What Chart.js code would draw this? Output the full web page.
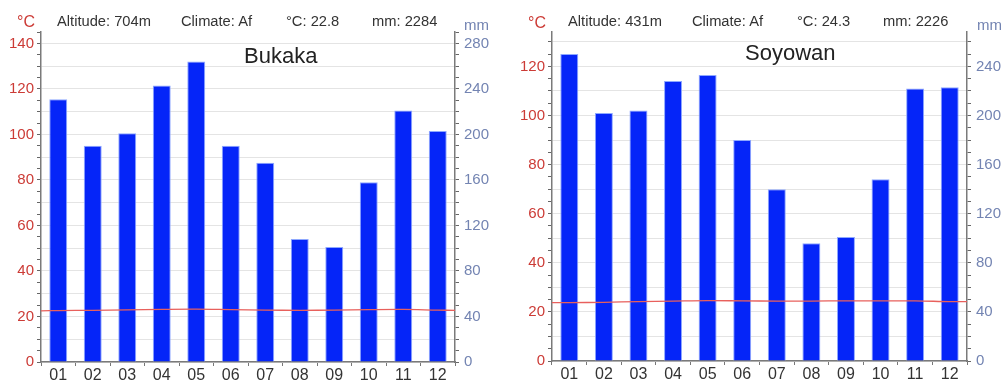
<!DOCTYPE html>
<html>
<head>
<meta charset="utf-8">
<script src="https://cdn.jsdelivr.net/npm/chart.js@4.4.1/dist/chart.umd.min.js"></script>
<style>
  html, body { margin: 0; padding: 0; background: #fff; }
  body { width: 1004px; height: 385px; overflow: hidden; position: relative;
         font-family: "Liberation Sans", Arial, sans-serif; }
  .panel { position: absolute; top: 0; height: 385px; }
  .txt { position: absolute; white-space: nowrap; line-height: 1; transform: translateY(-50%); }
  .hdr { font-size: 14.7px; color: #333; }
  .deg { font-size: 16px; color: #cc3b36; }
  .mm  { font-size: 15px; color: #7384b2; }
  .ttl { font-size: 22px; color: #222; }
</style>
</head>
<body>
<div class="panel" style="left:0;width:500px"><canvas id="c1" width="500" height="385"></canvas></div>
<div class="panel" style="left:500px;width:504px"><canvas id="c2" width="504" height="385"></canvas></div>

<div class="txt deg" style="left:17px;top:22px">°C</div>
<div class="txt hdr" style="left:57px;top:21px">Altitude: 704m</div>
<div class="txt hdr" style="left:181px;top:21px">Climate: Af</div>
<div class="txt hdr" style="left:286px;top:21px">°C: 22.8</div>
<div class="txt hdr" style="left:372px;top:21px">mm: 2284</div>
<div class="txt mm"  style="left:464px;top:24px">mm</div>
<div class="txt ttl" style="left:244px;top:56px">Bukaka</div>

<div class="txt deg" style="left:528px;top:23px">°C</div>
<div class="txt hdr" style="left:568px;top:21px">Altitude: 431m</div>
<div class="txt hdr" style="left:692px;top:21px">Climate: Af</div>
<div class="txt hdr" style="left:797px;top:21px">°C: 24.3</div>
<div class="txt hdr" style="left:883px;top:21px">mm: 2226</div>
<div class="txt mm"  style="left:977px;top:24px">mm</div>
<div class="txt ttl" style="left:745px;top:53px">Soyowan</div>

<script>
// Month labels shared by both stations
const months = ['01', '02', '03', '04', '05', '06', '07', '08', '09', '10', '11', '12'];

// Bukaka: monthly precipitation (mm) and mean temperature (°C)
const bukakaRain = [231, 190, 201, 243, 264, 190, 175, 108, 101, 158, 221, 203];
const bukakaTemp = [22.6, 22.7, 22.9, 23.1, 23.2, 23.0, 22.8, 22.7, 22.8, 23.0, 23.1, 22.8];
const bukakaTempEdges = [22.5, 22.7];   // curve value at the left / right plot edge

// Soyowan: monthly precipitation (mm) and mean temperature (°C)
const soyowanRain = [250, 202, 204, 228, 233, 180, 140, 96, 101, 148, 222, 223];
const soyowanTemp = [23.8, 23.9, 24.2, 24.4, 24.6, 24.5, 24.4, 24.4, 24.5, 24.5, 24.5, 24.2];
const soyowanTempEdges = [23.8, 24.2];

// Axis ranges (°C on the left, mm on the right = 2 × °C)
const bukakaTempMax = 145;
const soyowanTempMax = 134;

Chart.defaults.font.family = '"Liberation Sans", Arial, sans-serif';

function climateChart(canvasId, rain, temp, edges, tMax, yW, y2W, xH) {
  const linePts = [{ x: 0, y: edges[0] }]
    .concat(temp.map((t, i) => ({ x: i + 0.5, y: t })))
    .concat([{ x: 12, y: edges[1] }]);

  return new Chart(document.getElementById(canvasId), {
    type: 'bar',
    data: {
      labels: months,
      datasets: [
        {
          type: 'line',
          data: linePts,
          xAxisID: 'xl',
          yAxisID: 'y',
          borderColor: '#e8605c',
          borderWidth: 1.3,
          pointRadius: 0,
          tension: 0.35,
          order: 0
        },
        {
          type: 'bar',
          data: rain,
          xAxisID: 'x',
          yAxisID: 'y2',
          backgroundColor: '#0525f8',
          borderColor: '#8ea8ff',
          borderWidth: 1,
          grouped: false,
          barPercentage: 0.52,
          categoryPercentage: 1,
          order: 1
        }
      ]
    },
    options: {
      responsive: false,
      animation: false,
      events: [],
      layout: { padding: { top: 32, left: 0, right: 0, bottom: 0 } },
      plugins: { legend: { display: false }, tooltip: { enabled: false }, title: { display: false } },
      scales: {
        x: {
          type: 'category',
          offset: true,
          afterFit: s => { s.height = xH; },
          grid: { offset: true, drawOnChartArea: false, tickLength: 4, tickColor: '#777' },
          border: { color: '#7a7a7a', width: 1.5 },
          ticks: { color: '#333', font: { size: 16 }, padding: 0, maxRotation: 0, autoSkip: false }
        },
        xl: {
          type: 'linear', display: false, offset: false,
          grid: { offset: false }, min: 0, max: 12
        },
        y: {
          position: 'left',
          min: 0,
          max: tMax,
          afterFit: s => { s.width = yW; },
          grid: {
            color: c => (c.tick && c.tick.value % 10 === 0) ? '#e4e4e4' : 'rgba(0,0,0,0)',
            tickColor: '#666',
            tickLength: 4
          },
          border: { color: '#7a7a7a', width: 1.5 },
          ticks: {
            stepSize: 5,
            includeBounds: false,
            autoSkip: false,
            color: '#cc3b36',
            font: { size: 15 },
            padding: 3,
            callback: v => (v % 20 === 0 ? String(v) : '')
          }
        },
        y2: {
          position: 'right',
          min: 0,
          max: tMax * 2,
          afterFit: s => { s.width = y2W; },
          grid: { drawOnChartArea: false, tickColor: '#666', tickLength: 4 },
          border: { color: '#7a7a7a', width: 1.5 },
          ticks: {
            stepSize: 10,
            includeBounds: false,
            autoSkip: false,
            color: '#7384b2',
            font: { size: 15 },
            padding: 5,
            callback: v => (v % 40 === 0 ? String(v) : '')
          }
        }
      }
    }
  });
}

climateChart('c1', bukakaRain, bukakaTemp, bukakaTempEdges, bukakaTempMax, 41, 45, 23);
climateChart('c2', soyowanRain, soyowanTemp, soyowanTempEdges, soyowanTempMax, 52, 37, 24);
</script>
</body>
</html>
